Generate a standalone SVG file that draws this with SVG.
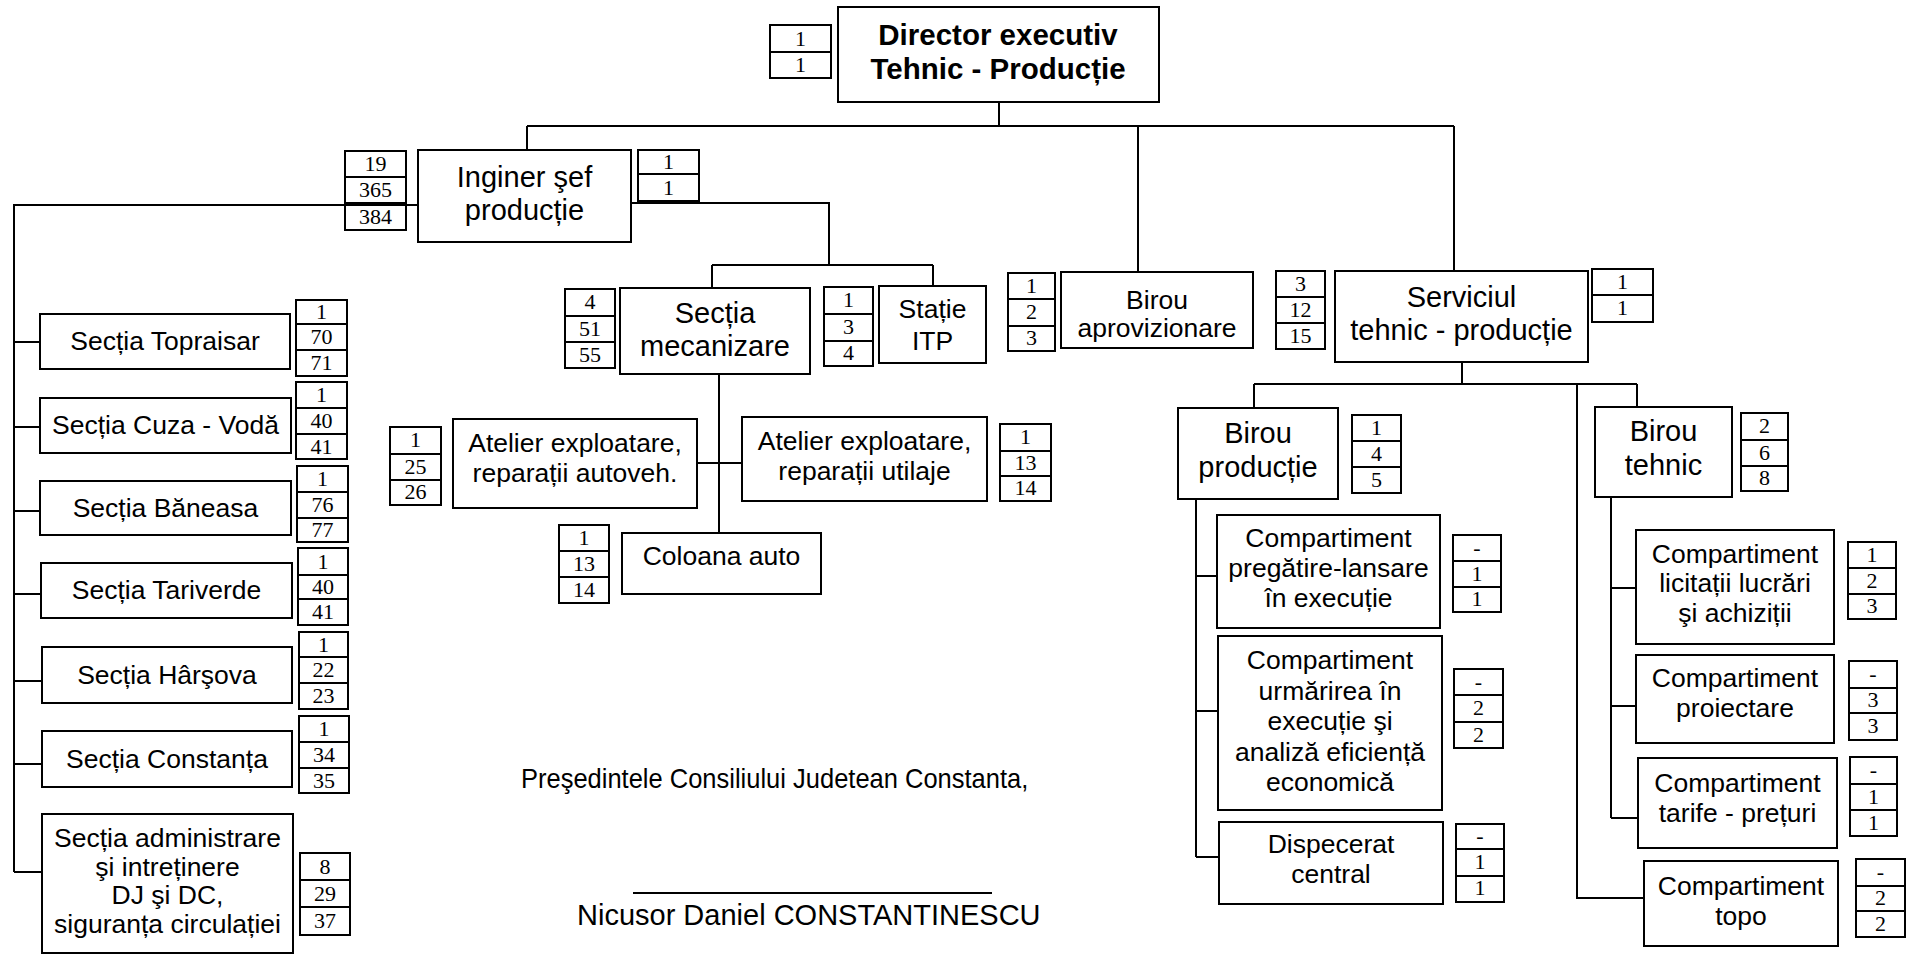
<svg xmlns="http://www.w3.org/2000/svg" width="1911" height="955" viewBox="0 0 1911 955">
<style>
  .box { fill: none; stroke: #000; stroke-width: 2; }
  .ln { fill: none; stroke: #000; stroke-width: 2; }
  .t { font-family: "Liberation Sans", Arial, sans-serif; font-size: 26.5px; text-anchor: middle; fill: #000; }
  .tl { font-family: "Liberation Sans", Arial, sans-serif; font-size: 29px; text-anchor: middle; fill: #000; }
  .td { font-family: "Liberation Sans", Arial, sans-serif; font-size: 29.5px; font-weight: bold; text-anchor: middle; fill: #000; }
  .n { font-family: "Liberation Serif", "Times New Roman", serif; font-size: 22px; text-anchor: middle; fill: #000; }
  .sig { font-family: "Liberation Sans", Arial, sans-serif; fill: #000; }
</style>
<rect x="0" y="0" width="1911" height="955" fill="#fff"/>

<!-- connectors -->
<g id="connectors" class="ln">
  <path d="M999 102 V126 M527 126 H1454 M527 126 V150 M1138 126 V272 M1454 126 V271"/>
  <path d="M631 203 H829 V265 M712 265 H933 M712 265 V288 M933 265 V287"/>
  <path d="M418 205 H14 V872"/>
  <path d="M14 342 H40 M14 427 H40 M14 511 H40 M14 594 H41 M14 681 H42 M14 764 H42 M14 872 H42"/>
  <path d="M719 374 V533 M697 463 H742"/>
  <path d="M1462 362 V384 M1254 384 H1637 M1254 384 V408 M1637 384 V407 M1577 384 V898 H1644"/>
  <path d="M1196 499 V857 M1196 576 H1217 M1196 711 H1218 M1196 857 H1219"/>
  <path d="M1611 497 V818 M1611 588 H1636 M1611 706 H1636 M1611 818 H1638"/>
</g>

<!-- top level -->
<g id="director">
  <rect class="box" x="838" y="7" width="321" height="95"/>
  <text class="td" x="998" y="45">Director executiv</text>
  <text class="td" x="998" y="79">Tehnic - Producție</text>
  <rect class="box" x="770" y="25" width="61" height="53"/>
  <path class="ln" d="M770 52 H831"/>
  <text class="n" x="800.5" y="46">1</text>
  <text class="n" x="800.5" y="72">1</text>
</g>

<g id="inginer-sef">
  <rect class="box" x="418" y="150" width="213" height="92"/>
  <text class="tl" x="524.5" y="187">Inginer şef</text>
  <text class="tl" x="524.5" y="220">producție</text>
  <rect class="box" x="345" y="151" width="61" height="79"/>
  <path class="ln" d="M345 177 H406 M345 203 H406"/>
  <text class="n" x="375.5" y="171">19</text>
  <text class="n" x="375.5" y="197">365</text>
  <text class="n" x="375.5" y="224">384</text>
  <rect class="box" x="638" y="150" width="61" height="51"/>
  <path class="ln" d="M638 174 H699"/>
  <text class="n" x="668.5" y="169">1</text>
  <text class="n" x="668.5" y="195">1</text>
</g>

<!-- sections on the left -->
<g id="sectia-topraisar">
  <rect class="box" x="40" y="314" width="250" height="55"/>
  <text class="t" x="165" y="350">Secția Topraisar</text>
  <rect class="box" x="296" y="300" width="51" height="76"/>
  <path class="ln" d="M296 324 H347 M296 350 H347"/>
  <text class="n" x="321.5" y="319">1</text>
  <text class="n" x="321.5" y="344">70</text>
  <text class="n" x="321.5" y="370">71</text>
</g>

<g id="sectia-cuza-voda">
  <rect class="box" x="40" y="398" width="251" height="55"/>
  <text class="t" x="165.5" y="434">Secția Cuza - Vodă</text>
  <rect class="box" x="296" y="382" width="51" height="77"/>
  <path class="ln" d="M296 408 H347 M296 434 H347"/>
  <text class="n" x="321.5" y="402">1</text>
  <text class="n" x="321.5" y="428">40</text>
  <text class="n" x="321.5" y="454">41</text>
</g>

<g id="sectia-baneasa">
  <rect class="box" x="40" y="481" width="251" height="54"/>
  <text class="t" x="165.5" y="517">Secția Băneasa</text>
  <rect class="box" x="297" y="466" width="51" height="76"/>
  <path class="ln" d="M297 492 H348 M297 518 H348"/>
  <text class="n" x="322.5" y="486">1</text>
  <text class="n" x="322.5" y="512">76</text>
  <text class="n" x="322.5" y="537">77</text>
</g>

<g id="sectia-tariverde">
  <rect class="box" x="41" y="563" width="251" height="55"/>
  <text class="t" x="166.5" y="599">Secția Tariverde</text>
  <rect class="box" x="298" y="548" width="50" height="77"/>
  <path class="ln" d="M298 575 H348 M298 599 H348"/>
  <text class="n" x="323" y="569">1</text>
  <text class="n" x="323" y="594">40</text>
  <text class="n" x="323" y="619">41</text>
</g>

<g id="sectia-harsova">
  <rect class="box" x="42" y="647" width="250" height="56"/>
  <text class="t" x="167" y="684">Secția Hârşova</text>
  <rect class="box" x="299" y="632" width="49" height="77"/>
  <path class="ln" d="M299 657 H348 M299 683 H348"/>
  <text class="n" x="323.5" y="652">1</text>
  <text class="n" x="323.5" y="677">22</text>
  <text class="n" x="323.5" y="703">23</text>
</g>

<g id="sectia-constanta">
  <rect class="box" x="42" y="731" width="250" height="56"/>
  <text class="t" x="167" y="768">Secția Constanța</text>
  <rect class="box" x="299" y="716" width="50" height="77"/>
  <path class="ln" d="M299 742 H349 M299 768 H349"/>
  <text class="n" x="324" y="736">1</text>
  <text class="n" x="324" y="762">34</text>
  <text class="n" x="324" y="788">35</text>
</g>

<g id="sectia-administrare">
  <rect class="box" x="42" y="814" width="251" height="139"/>
  <text class="t" x="167.5" y="847">Secția administrare</text>
  <text class="t" x="167.5" y="876">şi intreținere</text>
  <text class="t" x="167.5" y="904">DJ şi DC,</text>
  <text class="t" x="167.5" y="933">siguranța circulației</text>
  <rect class="box" x="300" y="853" width="50" height="82"/>
  <path class="ln" d="M300 880 H350 M300 907 H350"/>
  <text class="n" x="325" y="874">8</text>
  <text class="n" x="325" y="901">29</text>
  <text class="n" x="325" y="928">37</text>
</g>

<!-- mechanisation branch -->
<g id="sectia-mecanizare">
  <rect class="box" x="620" y="288" width="190" height="86"/>
  <text class="tl" x="715" y="323">Secția</text>
  <text class="tl" x="715" y="356">mecanizare</text>
  <rect class="box" x="565" y="289" width="50" height="79"/>
  <path class="ln" d="M565 316 H615 M565 342 H615"/>
  <text class="n" x="590" y="309">4</text>
  <text class="n" x="590" y="336">51</text>
  <text class="n" x="590" y="362">55</text>
</g>

<g id="statie-itp">
  <rect class="box" x="879" y="286" width="107" height="77"/>
  <text class="t" x="932.5" y="318">Stație</text>
  <text class="t" x="932.5" y="350">ITP</text>
  <rect class="box" x="824" y="287" width="49" height="79"/>
  <path class="ln" d="M824 314 H873 M824 341 H873"/>
  <text class="n" x="848.5" y="307">1</text>
  <text class="n" x="848.5" y="334">3</text>
  <text class="n" x="848.5" y="360">4</text>
</g>

<g id="atelier-autovehicule">
  <rect class="box" x="453" y="419" width="244" height="89"/>
  <text class="t" x="575" y="452">Atelier exploatare,</text>
  <text class="t" x="575" y="482">reparații autoveh.</text>
  <rect class="box" x="390" y="427" width="51" height="78"/>
  <path class="ln" d="M390 454 H441 M390 480 H441"/>
  <text class="n" x="415.5" y="447">1</text>
  <text class="n" x="415.5" y="474">25</text>
  <text class="n" x="415.5" y="499">26</text>
</g>

<g id="atelier-utilaje">
  <rect class="box" x="742" y="417" width="245" height="84"/>
  <text class="t" x="864.5" y="450">Atelier exploatare,</text>
  <text class="t" x="864.5" y="480">reparații utilaje</text>
  <rect class="box" x="1000" y="424" width="51" height="77"/>
  <path class="ln" d="M1000 451 H1051 M1000 476 H1051"/>
  <text class="n" x="1025.5" y="444">1</text>
  <text class="n" x="1025.5" y="470">13</text>
  <text class="n" x="1025.5" y="495">14</text>
</g>

<g id="coloana-auto">
  <rect class="box" x="622" y="533" width="199" height="61"/>
  <text class="t" x="721.5" y="565">Coloana auto</text>
  <rect class="box" x="559" y="525" width="50" height="78"/>
  <path class="ln" d="M559 551 H609 M559 577 H609"/>
  <text class="n" x="584" y="545">1</text>
  <text class="n" x="584" y="571">13</text>
  <text class="n" x="584" y="597">14</text>
</g>

<!-- supply office -->
<g id="birou-aprovizionare">
  <rect class="box" x="1061" y="272" width="192" height="76"/>
  <text class="t" x="1157" y="309">Birou</text>
  <text class="t" x="1157" y="337">aprovizionare</text>
  <rect class="box" x="1008" y="273" width="47" height="78"/>
  <path class="ln" d="M1008 299 H1055 M1008 326 H1055"/>
  <text class="n" x="1031.5" y="293">1</text>
  <text class="n" x="1031.5" y="319">2</text>
  <text class="n" x="1031.5" y="345">3</text>
</g>

<!-- technical service -->
<g id="serviciul-tehnic">
  <rect class="box" x="1335" y="271" width="253" height="91"/>
  <text class="tl" x="1461.5" y="307">Serviciul</text>
  <text class="tl" x="1461.5" y="340">tehnic - producție</text>
  <rect class="box" x="1276" y="271" width="49" height="78"/>
  <path class="ln" d="M1276 297 H1325 M1276 323 H1325"/>
  <text class="n" x="1300.5" y="291">3</text>
  <text class="n" x="1300.5" y="317">12</text>
  <text class="n" x="1300.5" y="343">15</text>
  <rect class="box" x="1592" y="269" width="61" height="53"/>
  <path class="ln" d="M1592 295 H1653"/>
  <text class="n" x="1622.5" y="289">1</text>
  <text class="n" x="1622.5" y="315">1</text>
</g>

<g id="birou-productie">
  <rect class="box" x="1178" y="408" width="160" height="91"/>
  <text class="tl" x="1258" y="443">Birou</text>
  <text class="tl" x="1258" y="477">producție</text>
  <rect class="box" x="1352" y="415" width="49" height="78"/>
  <path class="ln" d="M1352 441 H1401 M1352 467 H1401"/>
  <text class="n" x="1376.5" y="435">1</text>
  <text class="n" x="1376.5" y="461">4</text>
  <text class="n" x="1376.5" y="487">5</text>
</g>

<g id="birou-tehnic">
  <rect class="box" x="1595" y="407" width="137" height="90"/>
  <text class="tl" x="1663.5" y="441">Birou</text>
  <text class="tl" x="1663.5" y="475">tehnic</text>
  <rect class="box" x="1741" y="413" width="47" height="78"/>
  <path class="ln" d="M1741 440 H1788 M1741 466 H1788"/>
  <text class="n" x="1764.5" y="433">2</text>
  <text class="n" x="1764.5" y="460">6</text>
  <text class="n" x="1764.5" y="485">8</text>
</g>

<g id="compartiment-pregatire">
  <rect class="box" x="1217" y="515" width="223" height="113"/>
  <text class="t" x="1328.5" y="547">Compartiment</text>
  <text class="t" x="1328.5" y="577">pregătire-lansare</text>
  <text class="t" x="1328.5" y="607">în execuție</text>
  <rect class="box" x="1453" y="535" width="48" height="77"/>
  <path class="ln" d="M1453 561 H1501 M1453 587 H1501"/>
  <text class="n" x="1477" y="555">-</text>
  <text class="n" x="1477" y="581">1</text>
  <text class="n" x="1477" y="606">1</text>
</g>

<g id="compartiment-urmarire">
  <rect class="box" x="1218" y="636" width="224" height="174"/>
  <text class="t" x="1330" y="669">Compartiment</text>
  <text class="t" x="1330" y="699.5">urmărirea în</text>
  <text class="t" x="1330" y="730">execuție şi</text>
  <text class="t" x="1330" y="760.5">analiză eficiență</text>
  <text class="t" x="1330" y="791">economică</text>
  <rect class="box" x="1454" y="669" width="49" height="79"/>
  <path class="ln" d="M1454 695 H1503 M1454 722 H1503"/>
  <text class="n" x="1478.5" y="689">-</text>
  <text class="n" x="1478.5" y="715">2</text>
  <text class="n" x="1478.5" y="742">2</text>
</g>

<g id="dispecerat-central">
  <rect class="box" x="1219" y="822" width="224" height="82"/>
  <text class="t" x="1331" y="853">Dispecerat</text>
  <text class="t" x="1331" y="883">central</text>
  <rect class="box" x="1456" y="824" width="48" height="78"/>
  <path class="ln" d="M1456 849 H1504 M1456 876 H1504"/>
  <text class="n" x="1480" y="843">-</text>
  <text class="n" x="1480" y="869">1</text>
  <text class="n" x="1480" y="895">1</text>
</g>

<g id="compartiment-licitatii">
  <rect class="box" x="1636" y="530" width="198" height="114"/>
  <text class="t" x="1735" y="563">Compartiment</text>
  <text class="t" x="1735" y="592">licitații lucrări</text>
  <text class="t" x="1735" y="622">şi achiziții</text>
  <rect class="box" x="1848" y="542" width="48" height="77"/>
  <path class="ln" d="M1848 568 H1896 M1848 594 H1896"/>
  <text class="n" x="1872" y="562">1</text>
  <text class="n" x="1872" y="588">2</text>
  <text class="n" x="1872" y="613">3</text>
</g>

<g id="compartiment-proiectare">
  <rect class="box" x="1636" y="655" width="198" height="88"/>
  <text class="t" x="1735" y="687">Compartiment</text>
  <text class="t" x="1735" y="717">proiectare</text>
  <rect class="box" x="1849" y="661" width="48" height="79"/>
  <path class="ln" d="M1849 688 H1897 M1849 713 H1897"/>
  <text class="n" x="1873" y="681">-</text>
  <text class="n" x="1873" y="707">3</text>
  <text class="n" x="1873" y="733">3</text>
</g>

<g id="compartiment-tarife">
  <rect class="box" x="1638" y="758" width="199" height="90"/>
  <text class="t" x="1737.5" y="792">Compartiment</text>
  <text class="t" x="1737.5" y="822">tarife - prețuri</text>
  <rect class="box" x="1850" y="757" width="47" height="79"/>
  <path class="ln" d="M1850 784 H1897 M1850 810 H1897"/>
  <text class="n" x="1873.5" y="777">-</text>
  <text class="n" x="1873.5" y="804">1</text>
  <text class="n" x="1873.5" y="830">1</text>
</g>

<g id="compartiment-topo">
  <rect class="box" x="1644" y="861" width="194" height="85"/>
  <text class="t" x="1741" y="895">Compartiment</text>
  <text class="t" x="1741" y="925">topo</text>
  <rect class="box" x="1856" y="859" width="49" height="78"/>
  <path class="ln" d="M1856 886 H1905 M1856 911 H1905"/>
  <text class="n" x="1880.5" y="879">-</text>
  <text class="n" x="1880.5" y="905">2</text>
  <text class="n" x="1880.5" y="931">2</text>
</g>

<!-- signature block -->
<g id="semnatura">
  <text class="sig" transform="translate(521 788) scale(1 1.12)" x="0" y="0" font-size="25.5">Preşedintele Consiliului Judetean Constanta,</text>
  <path class="ln" d="M633 893 H992"/>
  <text class="sig" x="577" y="925" font-size="29">Nicusor Daniel CONSTANTINESCU</text>
</g>
</svg>
